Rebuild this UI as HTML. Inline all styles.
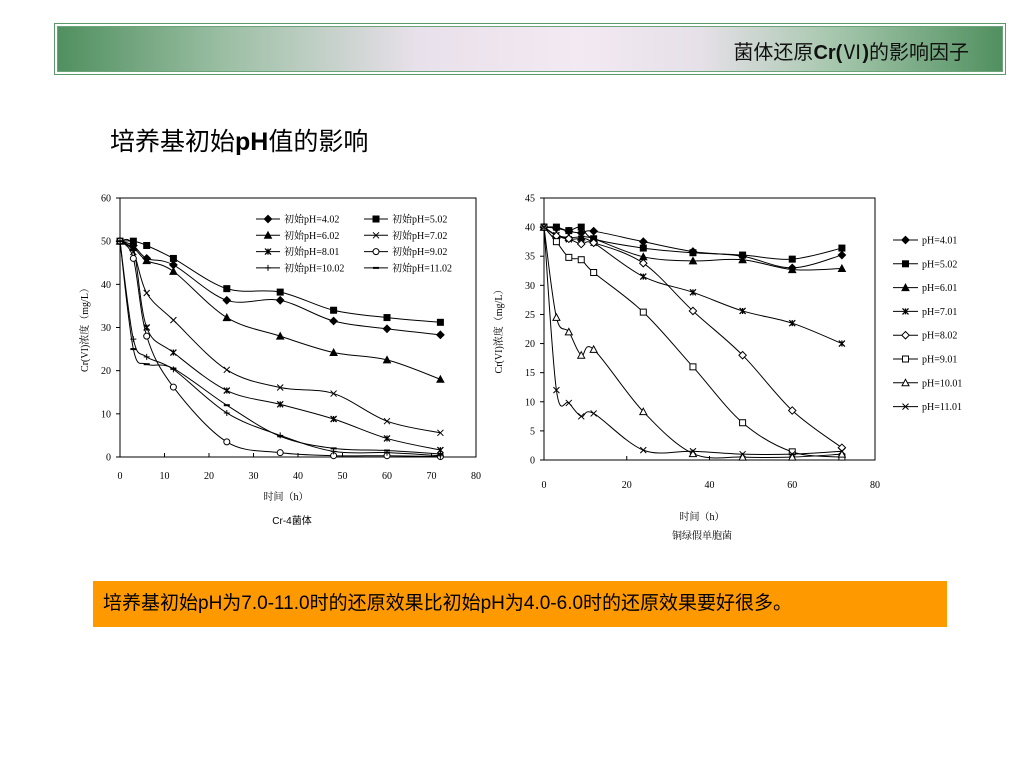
<!DOCTYPE html>
<html><head><meta charset="utf-8"><style>
body{margin:0;width:1024px;height:768px;background:#fff;overflow:hidden;font-family:"Liberation Sans","Noto Sans CJK SC",sans-serif;position:relative}
.banner{position:absolute;left:54px;top:23px;width:952px;height:52px;border:1px solid #5a9a6a;box-shadow:inset 0 0 0 2px #fff,inset 0 0 0 3px #6aa57a;box-sizing:border-box;background:linear-gradient(90deg,#4f8f5e 0%,#9cbfa4 18%,#e8e0ea 38%,#f3e9f3 55%,#e6e0e8 68%,#a6c7ad 82%,#4f8f5e 100%)}
.banner span{position:absolute;right:36px;top:12px;font-size:20px;color:#111}
.title{position:absolute;left:110px;top:122px;font-size:25px;color:#000}
.note{position:absolute;left:93px;top:581px;width:854px;height:46px;background:#ff9900;font-size:19px;line-height:46px;padding-left:10px;box-sizing:border-box}
svg text{font-family:"Liberation Serif","Noto Serif CJK SC",serif;font-size:10px}
</style></head><body>
<div class="banner"><span>菌体还原<b>Cr(</b>Ⅵ<b>)</b>的影响因子</span></div>
<div class="title">培养基初始<b>pH</b>值的影响</div>
<svg id="c" width="1024" height="768" style="position:absolute;left:0;top:0"></svg>
<div class="note">培养基初始pH为7.0-11.0时的还原效果比初始pH为4.0-6.0时的还原效果要好很多。</div>
<script>
const leftTimes=[0,3,6,12,24,36,48,60,72];
const leftNames=["初始pH=4.02","初始pH=5.02","初始pH=6.02","初始pH=7.02","初始pH=8.01","初始pH=9.02","初始pH=10.02","初始pH=11.02"];
const leftS1=[50,49,46,44.5,36.3,36.3,31.5,29.7,28.3];
const leftS2=[50,50,49,46,39,38.2,34,32.3,31.2];
const leftS3=[50,48.5,45.5,43,32.3,28,24.2,22.5,18];
const leftS4=[50,47.5,38,31.7,20.2,16.1,14.7,8.3,5.6];
const leftS5=[50,48.5,30,24.2,15.4,12.2,8.8,4.3,1.6];
const leftS6=[50,46,28,16.2,3.5,1,0.3,0.3,0.1];
const leftS7=[50,27.3,23.2,20.3,10.2,5,1.3,1,0.3];
const leftS8=[50,25,21.5,20.5,12,4.8,2,1.5,0.7];
const leftMarkers=["diamond","square","triangle","x","star","circle","plus","dash"];
const leftXTicks=[0,10,20,30,40,50,60,70,80];
const leftYTicks=[0,10,20,30,40,50,60];
const rightTimes=[0,3,6,9,12,24,36,48,60,72];
const rightNames=["pH=4.01","pH=5.02","pH=6.01","pH=7.01","pH=8.02","pH=9.01","pH=10.01","pH=11.01"];
const rightS1=[40,39.8,39.3,39,39.3,37.5,35.8,35,33,35.2];
const rightS2=[40,40,39.4,40,38,36.4,35.6,35.2,34.5,36.4];
const rightS3=[40,38.6,38.2,38.3,38,34.9,34.2,34.4,32.7,32.9];
const rightS4=[40,38.6,37.9,38,37.3,31.5,28.8,25.6,23.5,20];
const rightS5=[40,38.5,38,37.1,37.3,33.8,25.6,18,8.5,2.1];
const rightS6=[40,37.5,34.8,34.4,32.2,25.4,16,6.4,1.4,0.5];
const rightS7=[40,24.5,22,18,19,8.3,1.1,0.5,0.5,1.0];
const rightS8=[40,12,9.8,7.5,8,1.7,1.5,1,1,1.5];
const rightMarkers=["diamond","square","triangle","star","odiamond","osquare","otriangle","x"];
const rightXTicks=[0,20,40,60,80];
const rightYTicks=[0,5,10,15,20,25,30,35,40,45];
const NS="http://www.w3.org/2000/svg",svg=document.getElementById('c');
function mk(t,a,p){const e=document.createElementNS(NS,t);for(const k in a)e.setAttribute(k,a[k]);(p||svg).appendChild(e);return e;}
function curve(pts){let d="M"+pts[0][0]+","+pts[0][1];for(let i=0;i<pts.length-1;i++){const p0=pts[Math.max(i-1,0)],p1=pts[i],p2=pts[i+1],p3=pts[Math.min(i+2,pts.length-1)];const t=6;d+=" C"+(p1[0]+(p2[0]-p0[0])/t)+","+(p1[1]+(p2[1]-p0[1])/t)+" "+(p2[0]-(p3[0]-p1[0])/t)+","+(p2[1]-(p3[1]-p1[1])/t)+" "+p2[0]+","+p2[1];}return d;}
function marker(g,type,x,y){const s=3;let e;
if(type=="diamond"||type=="odiamond")e=mk('polygon',{points:`${x},${y-s-0.7} ${x+s+0.7},${y} ${x},${y+s+0.7} ${x-s-0.7},${y}`,fill:type=="diamond"?"#000":"#fff",stroke:"#000"},g);
else if(type=="square"||type=="osquare")e=mk('rect',{x:x-s,y:y-s,width:2*s,height:2*s,fill:type=="square"?"#000":"#fff",stroke:"#000"},g);
else if(type=="triangle"||type=="otriangle")e=mk('polygon',{points:`${x},${y-s-0.5} ${x+s+0.5},${y+s} ${x-s-0.5},${y+s}`,fill:type=="triangle"?"#000":"#fff",stroke:"#000"},g);
else if(type=="circle")e=mk('circle',{cx:x,cy:y,r:s,fill:"#fff",stroke:"#000"},g);
else if(type=="x")e=mk('path',{d:`M${x-s},${y-s}L${x+s},${y+s}M${x-s},${y+s}L${x+s},${y-s}`,stroke:"#000"},g);
else if(type=="star")e=mk('path',{d:`M${x-s},${y-s}L${x+s},${y+s}M${x-s},${y+s}L${x+s},${y-s}M${x},${y-s}L${x},${y+s}`,stroke:"#000","stroke-width":1.3},g);
else if(type=="plus")e=mk('path',{d:`M${x-s},${y}L${x+s},${y}M${x},${y-s}L${x},${y+s}`,stroke:"#000"},g);
else e=mk('path',{d:`M${x-s},${y}L${x+s},${y}`,stroke:"#000","stroke-width":2},g);

}
function chart(o){
const X=v=>o.x0+(o.x1-o.x0)*v/o.xmax,Y=v=>o.y0-(o.y0-o.y1)*v/o.ymax;
const g=mk('g',{});


const fr=mk('rect',{x:o.x0,y:o.y1,width:o.x1-o.x0,height:o.y0-o.y1,fill:"none",stroke:"#000"},g);


o.xt.forEach(v=>{mk('line',{x1:X(v),x2:X(v),y1:o.y0,y2:o.y0-4,stroke:"#000"},g);const t=mk('text',{x:X(v),y:o.y0+o.xo,"text-anchor":"middle","font-size":o.fs},g);t.textContent=v;

});
o.yt.forEach(v=>{mk('line',{x1:o.x0,x2:o.x0-4,y1:Y(v),y2:Y(v),stroke:"#000"},g);const t=mk('text',{x:o.x0-o.yo,y:Y(v)+3.5,"text-anchor":"end","font-size":o.fs},g);t.textContent=v;

});
o.series.forEach((s,i)=>{const pts=o.times.map((t,j)=>[X(t),Y(s[j])]);const p=mk('path',{d:curve(pts),fill:"none",stroke:"#000","stroke-width":1},g);


pts.forEach(q=>marker(g,o.markers[i],q[0],q[1]));});
o.names.forEach((n,i)=>{const [lx,ly]=o.leg(i);mk('line',{x1:lx,x2:lx+o.ll,y1:ly,y2:ly,stroke:"#000"},g);marker(g,o.markers[i],lx+o.ll/2,ly);const t=mk('text',{x:lx+o.ll+4,y:ly+3.5,"font-size":o.lfs},g);t.textContent=n;

});
const yl=mk('text',{x:0,y:0,transform:`translate(${o.ylx},${(o.y0+o.y1)/2}) rotate(-90)`,"text-anchor":"middle","font-size":o.fs},g);yl.textContent="Cr(VI)浓度（mg/L）";


}
chart({name:"left-chart",x0:120,x1:476,y0:457,y1:198,xmax:80,ymax:60,xt:leftXTicks,yt:leftYTicks,times:leftTimes,series:[leftS1,leftS2,leftS3,leftS4,leftS5,leftS6,leftS7,leftS8],names:leftNames,markers:leftMarkers,fs:9,xo:22,yo:9,ylx:88,ll:24,lfs:9.5,leg:i=>[i%2?364:256,219+Math.floor(i/2)*16.3]});
chart({name:"right-chart",x0:544,x1:875,y0:460,y1:198,xmax:80,ymax:45,xt:rightXTicks,yt:rightYTicks,times:rightTimes,series:[rightS1,rightS2,rightS3,rightS4,rightS5,rightS6,rightS7,rightS8],names:rightNames,markers:rightMarkers,fs:11,xo:28,yo:9,ylx:502,ll:25,lfs:11,leg:i=>[893,240+i*23.8]});
[[286,500,"时间（h）",9,"serif"],[292,524,"Cr-4菌体",11,"sans"],[702,520,"时间（h）",11,"serif"],[702,539,"铜绿假单胞菌",11,"serif"]].forEach(a=>{const t=mk('text',{x:a[0],y:a[1],"text-anchor":"middle","font-size":a[3]});t.textContent=a[2];
if(a[4]=="sans")t.setAttribute('style','font-family:"Liberation Sans","Noto Sans CJK SC",sans-serif');

});
</script>
</body></html>
